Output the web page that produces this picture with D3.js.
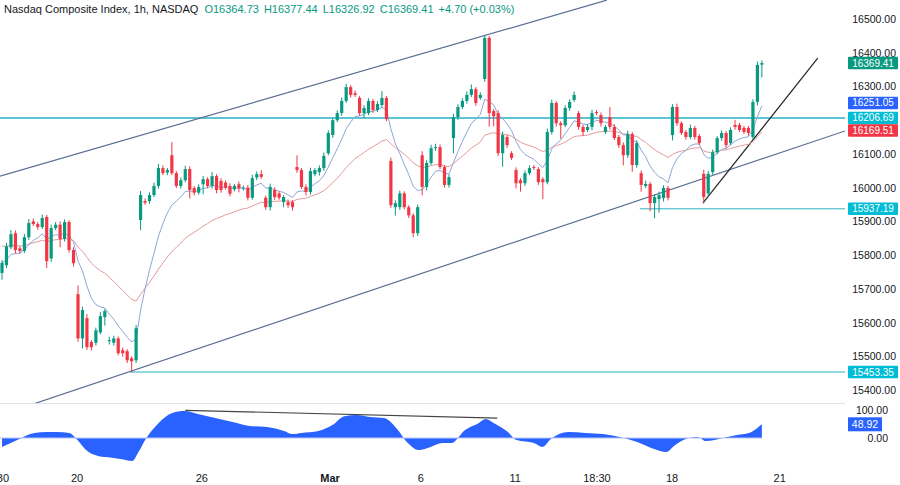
<!DOCTYPE html>
<html>
<head>
<meta charset="utf-8">
<script src="https://cdn.jsdelivr.net/npm/d3@7"></script>
<style>
  body { margin: 0; background: #fff; }
  text { font-family: "Liberation Sans", Arial, sans-serif; }
</style>
</head>
<body>
<svg id="chart" width="900" height="485"></svg>
<script>
const WIDTH = 900;
const HEIGHT = 485;
const PLOT_RIGHT = 845;

const title = 'Nasdaq Composite Index, 1h, NASDAQ';
const ohlcText = ['O16364.73', 'H16377.44', 'L16326.92', 'C16369.41', '+4.70 (+0.03%)'];

const opens = [
  15747, 15770, 15823, 15865, 15820, 15812, 15853, 15900, 15892, 15883,
  15913, 15790, 15880, 15890, 15848, 15898, 15815, 15684, 15553, 15613,
  15542, 15540, 15571, 15616, 15545, 15540, 15553, 15518, 15515, 15494,
  15488, 15904, 15960, 15960, 15978, 16005, 16058, 16045, 16096, 16043,
  16005, 16022, 16055, 15999, 15985, 16010, 16025, 16005, 16034, 16020,
  16015, 16005, 15995, 16010, 15997, 16000, 15970, 16030, 16040, 15970,
  15942, 15993, 15983, 15957, 15957, 15957, 16061, 16052, 16002, 15987,
  16040, 16046, 16058, 16102, 16156, 16200, 16221, 16257, 16298, 16280,
  16266, 16221, 16221, 16257, 16230, 16245, 16266, 16079, 15942, 15942,
  15983, 15942, 15918, 15865, 16096, 16002, 16073, 16117, 16120, 16061,
  16008, 16147, 16209, 16239, 16257, 16275, 16292, 16266, 16322, 16444,
  16227, 16221, 16102, 16150, 16102, 16052, 16022, 16013, 16043, 16061,
  16055, 16025, 16016, 16165, 16251, 16191, 16185, 16236, 16260, 16221,
  16180, 16171, 16180, 16224, 16215, 16165, 16209, 16180, 16150, 16126,
  16096, 16159, 16067, 16043, 16005, 16011, 15954, 15966, 15969, 15999,
  16156, 16239, 16191, 16165, 16150, 16177, 16153, 16041, 15983, 16046,
  16105, 16147, 16162, 16132, 16186, 16186, 16177, 16177, 16150, 16254,
  16364.73
];
const closes = [
  15777, 15826, 15862, 15815, 15812, 15853, 15895, 15892, 15883, 15910,
  15782, 15880, 15890, 15848, 15898, 15815, 15776, 15553, 15637, 15527,
  15527, 15577, 15619, 15634, 15548, 15553, 15509, 15509, 15488, 15485,
  15583, 15978, 15955, 15978, 16005, 16058, 16043, 16052, 16043, 16005,
  16022, 16055, 15993, 15985, 16002, 16025, 16005, 16034, 15993, 15993,
  16000, 15982, 16005, 15998, 16000, 15970, 16028, 16040, 16032, 15942,
  16002, 15972, 15970, 15972, 15948, 15942, 16052, 16002, 15987, 16049,
  16052, 16058, 16094, 16162, 16200, 16221, 16257, 16298, 16275, 16275,
  16221, 16236, 16257, 16230, 16248, 16266, 16203, 15948, 15954, 15983,
  15942, 15918, 15865, 15942, 16002, 16073, 16117, 16120, 16061, 16008,
  16031, 16209, 16239, 16257, 16275, 16292, 16251, 16275, 16444, 16221,
  16212, 16102, 16156, 16126, 16088, 16013, 16013, 16043, 16058, 16058,
  16016, 16016, 16165, 16251, 16191, 16185, 16236, 16254, 16275, 16180,
  16165, 16180, 16221, 16221, 16191, 16180, 16180, 16147, 16126, 16096,
  16159, 16067, 16132, 16008, 16011, 15954, 15972, 15978, 15999, 15970,
  16239, 16191, 16162, 16150, 16177, 16150, 16132, 15972, 16041, 16105,
  16147, 16162, 16126, 16171, 16180, 16171, 16165, 16162, 16254, 16364,
  16369.41
];
// wick lengths in points above the body top / below the body bottom
const wickUp = [
  8, 10, 12, 8, 6, 10, 12, 8, 6, 10,
  6, 10, 8, 10, 8, 6, 8, 26, 10, 12,
  6, 8, 12, 6, 10, 8, 6, 8, 6, 6,
  10, 12, 8, 8, 10, 12, 8, 6, 39, 6,
  8, 10, 8, 6, 8, 10, 6, 12, 6, 8,
  6, 8, 6, 8, 6, 8, 10, 8, 12, 6,
  10, 8, 6, 6, 8, 6, 35, 6, 8, 10,
  6, 8, 10, 8, 6, 8, 10, 10, 6, 8,
  6, 8, 8, 6, 8, 20, 6, 10, 8, 8,
  6, 6, 6, 8, 12, 8, 10, 10, 8, 6,
  8, 10, 8, 8, 10, 14, 6, 8, 6, 6,
  6, 8, 10, 6, 6, 8, 6, 8, 8, 6,
  6, 6, 10, 10, 6, 6, 8, 8, 10, 6,
  6, 8, 10, 6, 8, 6, 30, 8, 6, 8,
  10, 6, 8, 8, 10, 6, 8, 10, 8, 6,
  8, 10, 6, 6, 10, 6, 6, 12, 8, 8,
  6, 8, 6, 8, 15, 6, 6, 6, 8, 10,
  8.03
];
const wickDn = [
  20, 8, 6, 10, 8, 6, 8, 6, 8, 6,
  20, 10, 6, 25, 8, 8, 10, 10, 30, 8,
  10, 8, 6, 25, 10, 8, 6, 10, 8, 32,
  8, 30, 6, 8, 6, 8, 6, 8, 6, 6,
  8, 6, 25, 8, 6, 30, 6, 8, 10, 8,
  6, 8, 6, 12, 6, 8, 6, 8, 6, 8,
  10, 8, 6, 15, 8, 10, 8, 6, 10, 8,
  6, 10, 8, 6, 8, 6, 8, 6, 8, 6,
  8, 15, 6, 8, 6, 8, 6, 8, 25, 8,
  6, 8, 12, 8, 25, 10, 6, 8, 6, 8,
  8, 45, 8, 6, 8, 6, 8, 6, 8, 40,
  30, 8, 40, 8, 6, 15, 25, 8, 6, 6,
  8, 50, 6, 8, 10, 40, 6, 8, 6, 8,
  12, 6, 10, 6, 10, 6, 8, 6, 8, 30,
  8, 20, 8, 20, 6, 24, 45, 40, 10, 8,
  16, 8, 6, 8, 6, 8, 6, 18, 10, 8,
  6, 8, 10, 6, 8, 6, 6, 8, 8, 10,
  37.81
];

const EMA_FAST = 9;
const EMA_SLOW = 30;
const SLOW_SEED = 15830;

// oscillator readings: [candle index, value]
const oscIndex = [0, 3.4, 7.3, 10, 12.3, 15, 16.9, 18.8, 21.5, 23.4, 26.5, 29.2, 30.4, 32.3, 35, 38.1, 40.8,
  43.8, 47.7, 51.6, 55.4, 59.3, 63.1, 65, 67, 70.8, 73.9, 76.6, 79.3, 82.4, 85.5, 88.2, 90.8, 93.2, 95.9,
  98.5, 100.5, 103.6, 106.6, 108.2, 110.1, 113.2, 115.1, 119, 120.9, 122.8, 126.7, 130.5, 134.4, 138.2,
  142.1, 145.9, 148.6, 150.6, 153.6, 155.6, 157.5, 159.4, 161.3, 164.4, 167.1, 169, 170];
const oscValue = [-32, -7, 18, 21, 21, 18, -7, -43, -64, -68, -75, -82, -54, 0, 53, 89, 96,
  86, 71, 57, 43, 39, 25, 14, 18, 25, 46, 78, 82, 75, 71, 36, -18, -43, -32,
  -18, -18, 29, 53, 68, 53, 21, -7, -18, -32, -4, 21, 18, 14, 4,
  -14, -39, -50, -25, 0, 4, -11, -7, 0, 11, 18, 36, 48.92];

const priceTicks = [16500, 16400, 16300, 16200, 16100, 16000, 15900, 15800, 15700, 15600, 15500, 15400];
const oscTicks = [100, 0];
const timeLabels = ['30', '20', '26', 'Mar', '6', '11', '18:30', '18', '21'];
const timeIndex = [0.2, 16.8, 44.7, 73.4, 93.7, 114.8, 133.1, 149.9, 174];

// trend lines: [[index, price], [index, price]]
const channelUpper = [[-0.45, 16034], [135.3, 16556]];
const channelLower = [[6.9, 15358], [188.6, 16168]];
const steepLine = [[156.8, 15954], [182.5, 16384]];
const oscDivergence = [[41, 99], [110.8, 71]];
const levels = [
  { price: 16206.69, from: -1 },
  { price: 15937.19, from: 142.7 },
  { price: 15453.35, from: 28.6 },
];
const priceTags = [
  { text: '16369.41', value: 16369.41, color: '#089981' },
  { text: '16251.05', value: 16251.05, color: '#2962ff' },
  { text: '16206.69', value: 16206.69, color: '#00bcd4' },
  { text: '16169.51', value: 16169.51, color: '#f23645' },
  { text: '15937.19', value: 15937.19, color: '#00bcd4' },
  { text: '15453.35', value: 15453.35, color: '#00bcd4' },
];

const GREEN = '#089981';
const RED = '#f23645';
const TEAL = '#26b2c4';
const CHANNEL = '#5b6e94';

const svg = d3.select('#chart');

const x = d3.scaleLinear().domain([-0.45, 188.6]).range([0, PLOT_RIGHT]);
const y = d3.scaleLinear().domain([15400, 16500]).range([390, 19]);
const yo = d3.scaleLinear().domain([0, 100]).range([438, 410]);

const candles = opens.map((o, i) => {
  const c = closes[i];
  return { i, o, c, h: Math.max(o, c) + wickUp[i], l: Math.min(o, c) - wickDn[i] };
});

function ema(values, len, seed) {
  const k = 2 / (len + 1);
  let prev = seed;
  return values.map(v => (prev = v * k + prev * (1 - k)));
}
const fast = ema(closes, EMA_FAST, closes[0]);
const slow = ema(closes, EMA_SLOW, SLOW_SEED);

const plot = svg.append('g');
plot.append('defs').append('clipPath').attr('id', 'clip')
  .append('rect').attr('x', 0).attr('y', 0).attr('width', PLOT_RIGHT).attr('height', 403);
plot.append('defs').append('clipPath').attr('id', 'clipOsc')
  .append('rect').attr('x', 0).attr('y', 403).attr('width', PLOT_RIGHT).attr('height', 62);

const main = plot.append('g').attr('clip-path', 'url(#clip)');

const line = d3.line().x(d => x(d[0])).y(d => y(d[1]));

main.selectAll('.level')
  .data(levels)
  .enter()
.append('line')
  .attr('x1', d => x(d.from)).attr('x2', PLOT_RIGHT)
  .attr('y1', d => y(d.price)).attr('y2', d => y(d.price))
  .attr('stroke', TEAL).attr('stroke-width', d => d.from < 0 ? 1.5 : 1);

[channelUpper, channelLower].forEach(seg => {
  main.append('path').attr('d', line(seg)).attr('stroke', CHANNEL).attr('stroke-width', 1.2).attr('fill', 'none');
});
main.append('path').attr('d', line(steepLine)).attr('stroke', '#222').attr('stroke-width', 1.2).attr('fill', 'none');

main.append('path')
  .attr('d', line(slow.map((v, i) => [i, v])))
  .attr('stroke', '#e49a9a').attr('stroke-width', 1).attr('fill', 'none');
main.append('path')
  .attr('d', line(fast.map((v, i) => [i, v])))
  .attr('stroke', '#8ea6d8').attr('stroke-width', 1).attr('fill', 'none');

const bar = main.selectAll('.bar')
  .data(candles)
  .enter()
.append('g')
  .attr('class', 'bar');

bar.append('line')
  .attr('x1', d => x(d.i)).attr('x2', d => x(d.i))
  .attr('y1', d => y(d.h)).attr('y2', d => y(d.l))
  .attr('stroke', d => d.c >= d.o ? GREEN : RED).attr('stroke-width', 1);

bar.append('rect')
  .attr('x', d => x(d.i) - 1.6)
  .attr('width', 3.2)
  .attr('y', d => y(Math.max(d.o, d.c)))
  .attr('height', d => Math.max(1, Math.abs(y(d.o) - y(d.c))))
  .attr('fill', d => d.c >= d.o ? GREEN : RED);

// pane separator
svg.append('line').attr('x1', 0).attr('x2', WIDTH).attr('y1', 403.5).attr('y2', 403.5)
  .attr('stroke', '#e0e3eb').attr('stroke-width', 1);

// oscillator
const osc = svg.append('g').attr('clip-path', 'url(#clipOsc)');
const oscPts = oscIndex.map((v, k) => [v, oscValue[k]]);
osc.append('path')
  .attr('d', d3.area().curve(d3.curveMonotoneX).x(d => x(d[0])).y0(yo(0)).y1(d => yo(d[1]))(oscPts))
  .attr('fill', '#2962ff');
osc.append('line').attr('x1', 0).attr('x2', x(170)).attr('y1', yo(0)).attr('y2', yo(0))
  .attr('stroke', '#b8c6f5').attr('stroke-width', 1);
osc.append('path')
  .attr('d', d3.line().x(d => x(d[0])).y(d => yo(d[1]))(oscDivergence))
  .attr('stroke', '#444').attr('stroke-width', 1.2).attr('fill', 'none');

// right price axis (labels hidden behind price tags are left out)
svg.append('rect').attr('x', PLOT_RIGHT).attr('y', 0).attr('width', WIDTH - PLOT_RIGHT).attr('height', HEIGHT).attr('fill', '#fff');
svg.selectAll('.ptick')
  .data(priceTicks.filter(t => priceTags.every(g => Math.abs(y(t) - y(g.value)) > 10)))
  .enter()
.append('text')
  .attr('x', 896).attr('y', d => y(d) + 4)
  .attr('text-anchor', 'end').attr('font-size', 10.5).attr('fill', '#131722')
  .text(d => d3.format('.2f')(d));
svg.selectAll('.otick')
  .data(oscTicks)
  .enter()
.append('text')
  .attr('x', 888).attr('y', d => yo(d) + 4)
  .attr('text-anchor', 'end').attr('font-size', 10.5).attr('fill', '#131722')
  .text(d => d3.format('.2f')(d));

const tag = svg.selectAll('.tag')
  .data(priceTags)
  .enter()
.append('g');
tag.append('rect')
  .attr('x', 848).attr('y', d => y(d.value) - 6.2).attr('width', 50).attr('height', 12.4)
  .attr('rx', 1).attr('fill', d => d.color);
tag.append('text')
  .attr('x', 873).attr('y', d => y(d.value) + 3.5)
  .attr('text-anchor', 'middle').attr('font-size', 10).attr('fill', '#fff')
  .text(d => d.text);

svg.append('rect').attr('x', 848).attr('y', yo(48.92) - 7).attr('width', 34).attr('height', 14).attr('fill', '#2962ff');
svg.append('text').attr('x', 865).attr('y', yo(48.92) + 4).attr('text-anchor', 'middle')
  .attr('font-size', 10.5).attr('fill', '#fff').text('48.92');

// time axis
svg.selectAll('.ttick')
  .data(timeLabels)
  .enter()
.append('text')
  .attr('x', (d, k) => x(timeIndex[k])).attr('y', 482)
  .attr('text-anchor', 'middle').attr('font-size', 11)
  .attr('fill', '#131722').attr('font-weight', d => d === 'Mar' ? 'bold' : 'normal')
  .text(d => d);

// header
const header = svg.append('text').attr('x', 4).attr('y', 13).attr('font-size', 11);
header.append('tspan').attr('fill', '#131722').text(title);
ohlcText.forEach((t, k) => {
  header.append('tspan').attr('dx', k === 0 ? 6 : 5).attr('fill', GREEN).text(t);
});
</script>
</body>
</html>
